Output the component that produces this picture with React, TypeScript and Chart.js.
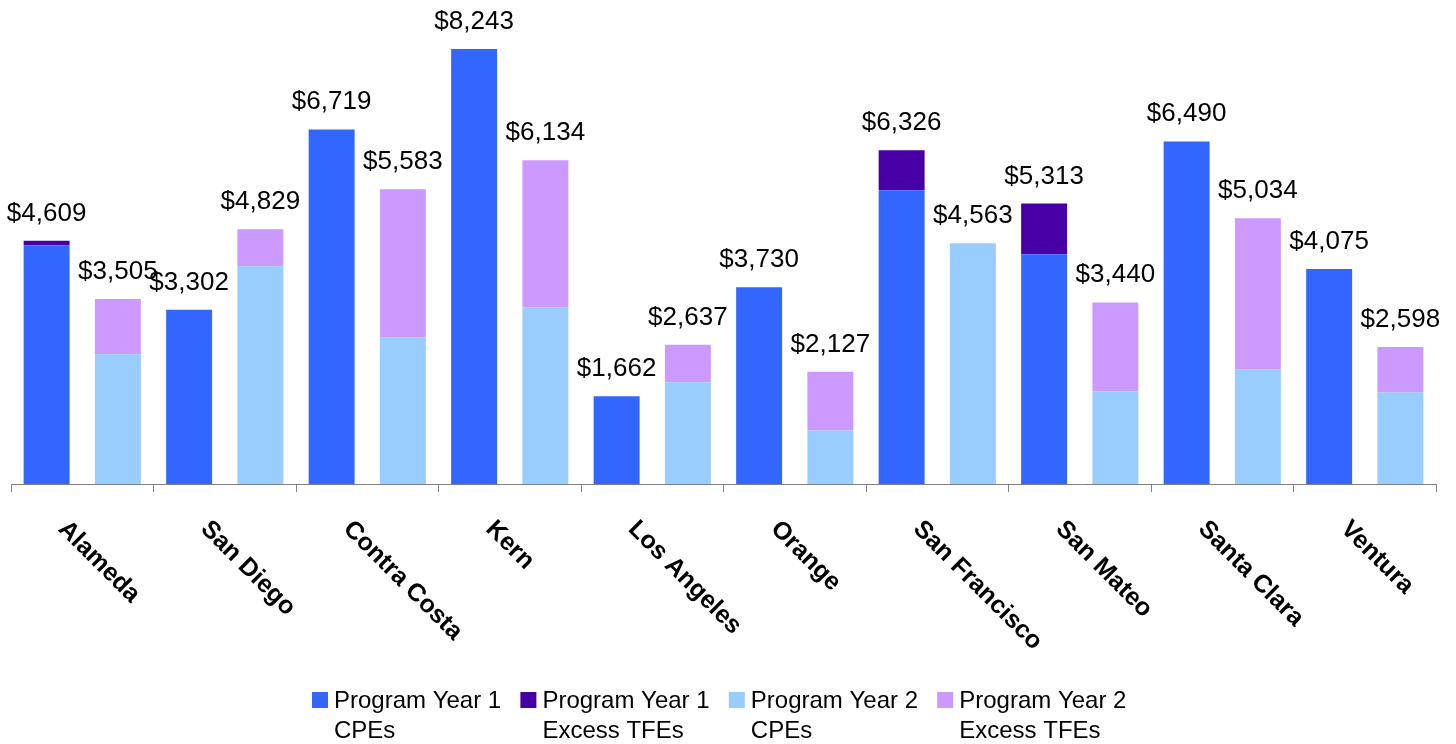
import { useEffect, useRef } from 'react';
import { Chart, registerables } from 'chart.js';

Chart.register(...registerables);

const categories = ['Alameda', 'San Diego', 'Contra Costa', 'Kern', 'Los Angeles', 'Orange', 'San Francisco', 'San Mateo', 'Santa Clara', 'Ventura'];
const year1CPEs = [4525, 3302, 6719, 8243, 1662, 3730, 5568, 4354, 6490, 4075];
const year1ExcessTFEs = [84, 0, 0, 0, 0, 0, 758, 959, 0, 0];
const year2CPEs = [2457, 4126, 2779, 3349, 1926, 1015, 4563, 1755, 2172, 1736];
const year2ExcessTFEs = [1048, 703, 2804, 2785, 711, 1112, 0, 1685, 2862, 862];
const seriesNames = [
  ['Program Year 1', 'CPEs'],
  ['Program Year 1', 'Excess TFEs'],
  ['Program Year 2', 'CPEs'],
  ['Program Year 2', 'Excess TFEs'],
];
const seriesColors = ['#3366FF', '#4600A5', '#99CCFF', '#CC99FF'];

const FONT = '"Liberation Sans", Arial, Helvetica, sans-serif';

export default function App() {
  const ref = useRef<HTMLCanvasElement>(null);

  useEffect(() => {
    const canvas = ref.current;
    if (!canvas) return;

    const decorPlugin = {
      id: 'decor',
      afterDraw(chart: any) {
        const c = chart.ctx;
        const xScale = chart.scales.x;
        const yScale = chart.scales.y;
        c.save();
        c.fillStyle = '#000';

        // totals above each stack
        c.font = `26px ${FONT}`;
        c.textAlign = 'center';
        c.textBaseline = 'alphabetic';
        const pairs = [[0, 1], [2, 3]];
        for (const [a, b] of pairs) {
          const metaTop = chart.getDatasetMeta(b);
          const dsA = chart.data.datasets[a].data as number[];
          const dsB = chart.data.datasets[b].data as number[];
          for (let i = 0; i < categories.length; i++) {
            const total = dsA[i] + dsB[i];
            const x = metaTop.data[i].x;
            const y = yScale.getPixelForValue(total);
            c.fillText('$' + total.toLocaleString('en-US'), x, y - 20);
          }
        }

        // rotated category labels
        c.font = `bold 25px ${FONT}`;
        c.textAlign = 'left';
        c.textBaseline = 'alphabetic';
        for (let i = 0; i < categories.length; i++) {
          const cx = xScale.getPixelForValue(i);
          c.save();
          c.translate(cx - 25, 530);
          c.rotate(Math.PI / 4);
          c.fillText(categories[i], 0, 0);
          c.restore();
        }

        // legend
        c.font = `24px ${FONT}`;
        const startX = 312;
        const step = 208.4;
        for (let k = 0; k < seriesNames.length; k++) {
          const sx = startX + k * step;
          c.fillStyle = seriesColors[k];
          c.fillRect(sx, 692, 16, 16);
          c.fillStyle = '#000';
          c.fillText(seriesNames[k][0], sx + 22, 708);
          c.fillText(seriesNames[k][1], sx + 22, 738);
        }
        c.restore();
      },
    };

    const chart = new Chart(canvas, {
      type: 'bar',
      data: {
        labels: categories,
        datasets: [
          { label: seriesNames[0].join(' '), data: year1CPEs, backgroundColor: seriesColors[0], stack: 'y1' },
          { label: seriesNames[1].join(' '), data: year1ExcessTFEs, backgroundColor: seriesColors[1], stack: 'y1' },
          { label: seriesNames[2].join(' '), data: year2CPEs, backgroundColor: seriesColors[2], stack: 'y2' },
          { label: seriesNames[3].join(' '), data: year2ExcessTFEs, backgroundColor: seriesColors[3], stack: 'y2' },
        ],
      },
      options: {
        responsive: false,
        devicePixelRatio: 1,
        animation: false,
        categoryPercentage: 1.0,
        barPercentage: 0.645,
        layout: { padding: { left: 11, right: 20, top: 9, bottom: 252 } },
        plugins: {
          legend: { display: false },
          tooltip: { enabled: false },
        },
        scales: {
          x: {
            stacked: true,
            offset: true,
            grid: {
              display: true,
              drawOnChartArea: false,
              drawTicks: true,
              tickLength: 8,
              color: '#808080',
              offset: true,
            },
            border: { display: true, color: '#808080', width: 1 },
            ticks: { display: false },
          },
          y: {
            stacked: true,
            display: false,
            min: 0,
            max: 9000,
          },
        },
      },
      plugins: [decorPlugin],
    } as any);

    return () => chart.destroy();
  }, []);

  return (
    <div style={{ position: 'absolute', left: 0, top: 0, width: 1456, height: 744, background: '#fff' }}>
      <canvas ref={ref} width={1456} height={744} style={{ display: 'block', width: 1456, height: 744 }} />
    </div>
  );
}
